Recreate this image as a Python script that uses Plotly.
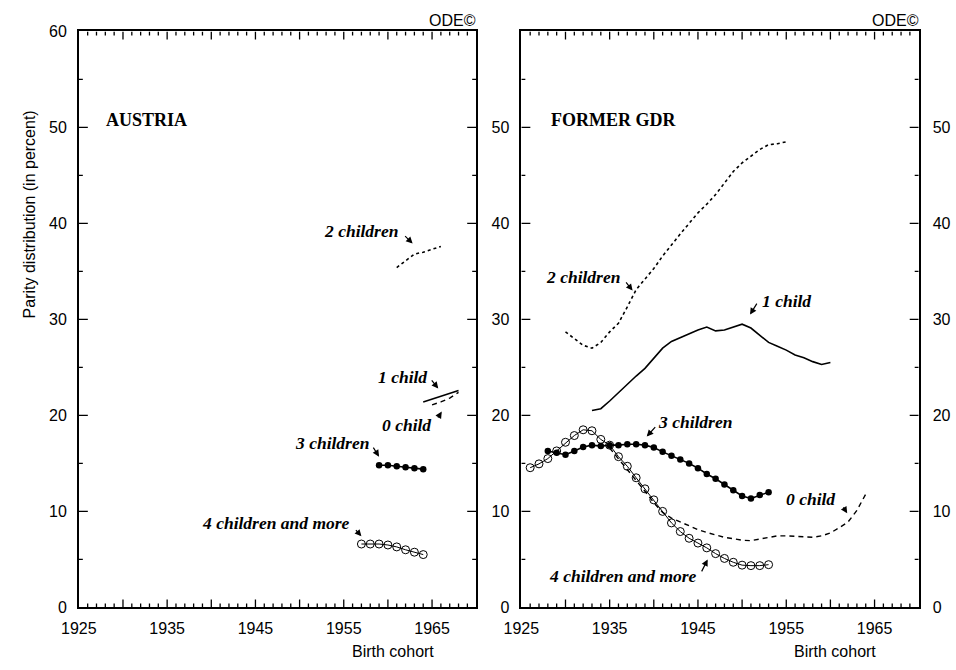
import plotly.graph_objects as go

# ---------------- Austria (parity distribution, percent) ----------------
at_years_0 = [1965, 1966, 1967, 1968]
at_zero = [21.1, 21.4, 21.8, 22.4]
at_years_1 = [1964, 1965, 1966, 1967, 1968]
at_one = [21.4, 21.7, 22.0, 22.3, 22.6]
at_years_2 = [1961, 1962, 1963, 1964, 1965, 1966]
at_two = [35.4, 36.1, 36.8, 37.0, 37.3, 37.6]
at_years_3 = [1959, 1960, 1961, 1962, 1963, 1964]
at_three = [14.8, 14.8, 14.7, 14.6, 14.5, 14.4]
at_years_4 = [1957, 1958, 1959, 1960, 1961, 1962, 1963, 1964]
at_four = [6.6, 6.6, 6.6, 6.5, 6.3, 6.0, 5.75, 5.5]

# ---------------- Former GDR ----------------
gdr_years_0 = list(range(1935, 1965))
gdr_zero = [16.6, 15.5, 14.4, 13.3, 12.1, 10.9, 9.9, 9.3, 8.9, 8.5,
             8.1, 7.8, 7.55, 7.3, 7.15, 7.0, 6.95, 7.1, 7.3, 7.45,
             7.45, 7.4, 7.3, 7.3, 7.45, 7.75, 8.3, 8.9, 10.1, 11.8]
gdr_years_1 = list(range(1933, 1961))
gdr_one = [20.5, 20.7, 21.5, 22.4, 23.3, 24.1, 24.9, 26.0, 27.0, 27.7,
           28.1, 28.5, 28.9, 29.2, 28.8, 28.9, 29.2, 29.5, 29.1, 28.3,
           27.6, 27.2, 26.8, 26.3, 26.0, 25.6, 25.3, 25.5]
gdr_years_2 = list(range(1930, 1956))
gdr_two = [28.7, 28.0, 27.3, 27.0, 27.6, 28.7, 29.6, 31.3, 33.1, 34.2,
           35.3, 36.6, 37.8, 38.9, 40.0, 41.1, 42.0, 43.0, 44.2, 45.4,
           46.3, 47.0, 47.7, 48.2, 48.3, 48.5]
gdr_years_3 = list(range(1928, 1954))
gdr_three = [16.3, 16.1, 15.9, 16.3, 16.7, 16.9, 16.8, 16.9, 16.9, 17.0,
             17.0, 16.9, 16.65, 16.2, 15.8, 15.4, 15.0, 14.5, 13.9, 13.4,
             12.8, 12.2, 11.6, 11.35, 11.7, 12.0]
gdr_years_4 = list(range(1926, 1954))
gdr_four = [14.55, 14.95, 15.5, 16.3, 17.2, 17.9, 18.5, 18.4, 17.5, 16.9,
            15.7, 14.7, 13.5, 12.35, 11.2, 10.0, 8.8, 7.9, 7.2, 6.7,
            6.2, 5.6, 5.1, 4.7, 4.4, 4.35, 4.35, 4.45]

# axis tick labels and tick marks
x_label_vals = [1925, 1935, 1945, 1955, 1965]
y_label_vals_left = [0, 10, 20, 30, 40, 50, 60]
y_label_vals_right = [0, 10, 20, 30, 40, 50]
x_minor_ticks = [v for v in range(1926, 1970) if v % 5 != 0]
x_major_ticks = list(range(1930, 1970, 5))
y_minor_ticks = list(range(5, 60, 10))
y_major_ticks = list(range(10, 60, 10))

X_RANGE = [1925, 1970]
Y_RANGE = [0, 60]

W, H = 956, 670
INK = "black"
CLEAR = "rgba(0,0,0,0)"
SANS = "Liberation Sans, Arial, sans-serif"
SERIF = "Liberation Serif, Times New Roman, serif"

fig = go.Figure()


def add_panel(xa, ya, zero, one, two, three, four):
    z_y, z_v = zero
    o_y, o_v = one
    t_y, t_v = two
    th_y, th_v = three
    f_y, f_v = four
    fig.add_trace(go.Scatter(x=t_y, y=t_v, mode="lines", xaxis=xa, yaxis=ya,
                             line=dict(color=INK, width=1.6, dash="dot")))
    fig.add_trace(go.Scatter(x=o_y, y=o_v, mode="lines", xaxis=xa, yaxis=ya,
                             line=dict(color=INK, width=1.6)))
    fig.add_trace(go.Scatter(x=z_y, y=z_v, mode="lines", xaxis=xa, yaxis=ya,
                             line=dict(color=INK, width=1.4, dash="5px,4px")))
    fig.add_trace(go.Scatter(x=th_y, y=th_v, mode="lines+markers", xaxis=xa, yaxis=ya,
                             line=dict(color=INK, width=1.6),
                             marker=dict(symbol="circle", size=6.5, color=INK)))
    fig.add_trace(go.Scatter(x=f_y, y=f_v, mode="lines+markers", xaxis=xa, yaxis=ya,
                             line=dict(color=INK, width=1),
                             marker=dict(symbol="circle-open", size=8,
                                         color=INK, line=dict(width=1))))


add_panel("x", "y", (at_years_0, at_zero), (at_years_1, at_one), (at_years_2, at_two),
          (at_years_3, at_three), (at_years_4, at_four))
add_panel("x2", "y2", (gdr_years_0, gdr_zero), (gdr_years_1, gdr_one), (gdr_years_2, gdr_two),
          (gdr_years_3, gdr_three), (gdr_years_4, gdr_four))
# carrier for the right-hand labels of the GDR panel
fig.add_trace(go.Scatter(x=[X_RANGE[0]], y=[Y_RANGE[0]], xaxis="x2", yaxis="y3",
                         mode="markers", marker=dict(opacity=0), hoverinfo="skip"))

bottom = (H - 615) / H
top = (H - 24) / H
left_dom = [62 / W, 467 / W]
right_dom = [513 / W, 918 / W]
tickfont = dict(family=SANS, size=16, color=INK)
frame = dict(showline=True, linewidth=1.6, linecolor=INK, showgrid=False, zeroline=False)


def label_axis(rng, vals, gap, **kw):
    # numbers and frame line; the axis' own ticks only space the numbers out
    d = dict(range=rng, tickmode="array", tickvals=vals, ticktext=[str(v) for v in vals],
             ticks="outside", ticklen=gap, tickcolor=CLEAR, tickfont=tickfont,
             mirror=True, **frame)
    d.update(kw)
    return d


fig.update_layout(
    width=W, height=H, margin=dict(l=0, r=0, t=0, b=0),
    paper_bgcolor="white", plot_bgcolor="white", showlegend=False,
    xaxis=label_axis(X_RANGE, x_label_vals, 6, domain=left_dom, anchor="y"),
    yaxis=label_axis(Y_RANGE, y_label_vals_left, 7, domain=[bottom, top], anchor="x"),
    xaxis2=label_axis(X_RANGE, x_label_vals, 6, domain=right_dom, anchor="y2"),
    yaxis2=label_axis(Y_RANGE, y_label_vals_right, 7, domain=[bottom, top], anchor="x2"),
    yaxis3=label_axis(Y_RANGE, y_label_vals_right, 9, overlaying="y2", anchor="x2",
                      side="right", mirror=False),
)

# inward tick marks on all four sides of each frame, lengths in screen pixels
tick_line = dict(color=INK, width=1.3)
shapes = []
for xa, ya in (("x", "y"), ("x2", "y2")):
    for vals, length in ((x_minor_ticks, 4), (x_major_ticks, 8)):
        for v in vals:
            for anchor, sign in ((Y_RANGE[0], 1), (Y_RANGE[1], -1)):
                shapes.append(dict(type="line", xref=xa, yref=ya, x0=v, x1=v,
                                   ysizemode="pixel", yanchor=anchor, y0=0, y1=sign * length,
                                   line=tick_line, layer="above"))
    for vals, length in ((y_minor_ticks, 4), (y_major_ticks, 9)):
        for v in vals:
            for anchor, sign in ((X_RANGE[0], 1), (X_RANGE[1], -1)):
                shapes.append(dict(type="line", xref=xa, yref=ya, y0=v, y1=v,
                                   xsizemode="pixel", xanchor=anchor, x0=0, x1=sign * length,
                                   line=tick_line, layer="above"))
fig.update_layout(shapes=shapes)

label_font = dict(family=SERIF, size=17.5, color=INK, weight="bold", style="italic")

# (axis pair, text, text x, text y, xanchor, arrow tip x, tip y, tail dx, tail dy)
series_labels = [
    ("x", "y", "2 children", 1961.4, 39.2, "right", 1962.8, 37.9, -9, -9),
    ("x", "y", "1 child", 1964.6, 24.0, "right", 1965.7, 22.8, -8, -10),
    ("x", "y", "0 child", 1965.1, 19.0, "right", 1966.1, 20.4, -5, 8),
    ("x", "y", "3 children", 1958.1, 17.1, "right", 1959.0, 15.7, -7, -11),
    ("x", "y", "4 children and more", 1955.9, 8.8, "right", 1957.0, 7.4, -7, -8),
    ("x2", "y2", "2 children", 1936.4, 34.4, "right", 1937.6, 33.0, -8, -10),
    ("x2", "y2", "1 child", 1952.0, 31.9, "left", 1950.9, 30.5, 8, -13),
    ("x2", "y2", "3 children", 1940.3, 19.3, "left", 1939.2, 17.8, 10, -11),
    ("x2", "y2", "0 child", 1960.8, 11.3, "right", 1961.9, 9.8, -5, -8),
    ("x2", "y2", "4 children and more", 1945.1, 3.3, "right", 1946.1, 5.0, -7, 14),
]
for xr, yr, txt, tx, ty, anc, ax_, ay_, dx, dy in series_labels:
    fig.add_annotation(x=tx, y=ty, xref=xr, yref=yr, text=txt, showarrow=False,
                       xanchor=anc, yanchor="middle", font=label_font)
    fig.add_annotation(x=ax_, y=ay_, xref=xr, yref=yr, text=" ", showarrow=True,
                       ax=dx, ay=dy, font=dict(size=1),
                       arrowhead=2, arrowsize=1.1, arrowwidth=1.2, arrowcolor=INK,
                       standoff=0, startstandoff=0)

title_font = dict(family=SERIF, size=18, color=INK, weight="bold")
fig.add_annotation(x=1927.9, y=50.8, xref="x", yref="y", text="AUSTRIA",
                   showarrow=False, xanchor="left", yanchor="middle", font=title_font)
fig.add_annotation(x=1928.1, y=50.8, xref="x2", yref="y2", text="FORMER GDR",
                   showarrow=False, xanchor="left", yanchor="middle", font=title_font)

small = dict(family=SANS, size=16, color=INK)
for dom in (left_dom, right_dom):
    fig.add_annotation(x=dom[1] + 2 / W, y=1 - 13 / H, xref="paper", yref="paper",
                       text="ODE©", showarrow=False, xanchor="right",
                       yanchor="middle", font=small)
    fig.add_annotation(x=dom[1] - 41 / W, y=1 - 660 / H, xref="paper", yref="paper",
                       text="Birth cohort", showarrow=False, xanchor="right",
                       yanchor="middle", font=small)

fig.add_annotation(x=12 / W, y=1 - 212 / H, xref="paper", yref="paper",
                   text="Parity distribution (in percent)", textangle=-90,
                   showarrow=False, xanchor="center", yanchor="middle", font=small)

fig.write_html("out.html")
